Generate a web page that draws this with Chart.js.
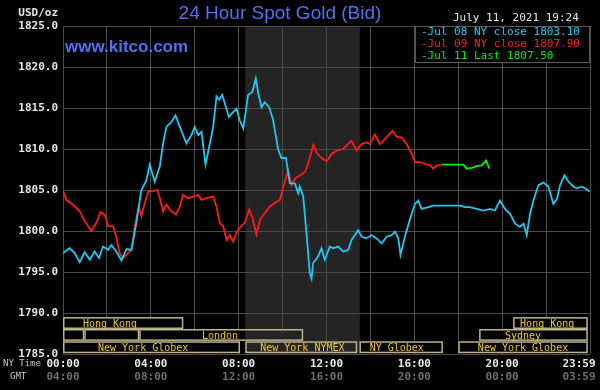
<!DOCTYPE html>
<html>
<head>
<meta charset="utf-8">
<script src="https://cdn.jsdelivr.net/npm/chart.js@4"></script>
<style>
  body { margin: 0; background: #000; }
  canvas { display: block; }
</style>
</head>
<body>
<canvas id="gold" width="600" height="390"></canvas>
<script>
// Jul 08 (cyan) - hours NY time / price
const jul08Hours = [0.00, 0.30, 0.53, 0.76, 0.99, 1.22, 1.44, 1.64, 1.82, 2.05, 2.20, 2.43, 2.66, 2.89, 3.12, 3.34, 3.57, 3.80, 3.95, 4.18, 4.41, 4.56, 4.71, 4.94, 5.12, 5.32, 5.62, 5.85, 6.00, 6.16, 6.31, 6.49, 6.69, 6.84, 6.99, 7.11, 7.25, 7.40, 7.55, 7.75, 7.90, 8.05, 8.21, 8.43, 8.63, 8.78, 8.89, 9.04, 9.19, 9.39, 9.57, 9.80, 9.95, 10.15, 10.33, 10.56, 10.71, 10.78, 10.94, 11.09, 11.24, 11.32, 11.39, 11.62, 11.77, 11.92, 12.15, 12.30, 12.53, 12.76, 12.99, 13.14, 13.29, 13.44, 13.60, 13.82, 14.05, 14.28, 14.51, 14.74, 14.96, 15.12, 15.27, 15.37, 15.57, 15.72, 15.88, 16.03, 16.18, 16.33, 16.64, 16.86, 17.17, 17.62, 18.08, 18.31, 18.53, 18.84, 19.14, 19.45, 19.67, 19.90, 20.13, 20.36, 20.59, 20.81, 20.97, 21.12, 21.27, 21.42, 21.65, 21.88, 22.11, 22.33, 22.49, 22.64, 22.84, 23.02, 23.25, 23.40, 23.63, 23.78, 23.98];
const jul08Prices = [1797.3, 1797.9, 1797.3, 1796.2, 1797.4, 1796.5, 1797.5, 1796.7, 1798.1, 1797.7, 1798.3, 1797.5, 1796.4, 1797.8, 1797.7, 1801.0, 1805.0, 1806.2, 1808.1, 1806.0, 1807.9, 1810.7, 1812.7, 1813.3, 1814.1, 1812.7, 1810.7, 1811.7, 1812.7, 1811.7, 1812.1, 1808.1, 1810.7, 1812.7, 1816.4, 1816.0, 1816.6, 1815.3, 1813.9, 1814.5, 1814.9, 1813.5, 1812.5, 1816.6, 1817.0, 1818.6, 1816.8, 1815.1, 1815.7, 1815.1, 1813.5, 1809.9, 1808.9, 1808.9, 1805.8, 1805.8, 1804.6, 1805.4, 1804.2, 1799.7, 1794.8, 1794.2, 1796.1, 1796.9, 1797.9, 1796.5, 1798.1, 1797.9, 1798.1, 1797.5, 1797.7, 1798.9, 1799.5, 1800.1, 1799.3, 1799.1, 1799.5, 1799.1, 1798.5, 1799.3, 1799.5, 1799.9, 1799.1, 1797.1, 1799.3, 1800.7, 1802.1, 1803.3, 1803.7, 1802.7, 1802.9, 1803.1, 1803.1, 1803.1, 1803.1, 1802.9, 1802.9, 1802.7, 1802.5, 1802.7, 1802.5, 1803.7, 1802.7, 1802.1, 1800.9, 1800.5, 1800.9, 1799.5, 1802.1, 1803.7, 1805.6, 1805.9, 1805.4, 1803.3, 1803.9, 1805.6, 1806.8, 1806.0, 1805.4, 1805.2, 1805.4, 1805.2, 1804.8];

// Jul 09 (red)
const jul09Hours = [0.00, 0.15, 0.46, 0.76, 0.99, 1.29, 1.52, 1.70, 1.90, 2.05, 2.28, 2.43, 2.58, 2.74, 2.96, 3.12, 3.27, 3.45, 3.57, 3.72, 3.88, 4.10, 4.29, 4.41, 4.56, 4.71, 4.94, 5.14, 5.32, 5.47, 5.70, 5.93, 6.16, 6.31, 6.53, 6.84, 6.99, 7.14, 7.29, 7.45, 7.60, 7.75, 7.90, 8.05, 8.28, 8.48, 8.63, 8.81, 8.97, 9.19, 9.42, 9.65, 9.88, 10.03, 10.26, 10.41, 10.56, 10.79, 11.02, 11.17, 11.40, 11.55, 11.78, 12.01, 12.23, 12.46, 12.76, 13.14, 13.37, 13.60, 13.82, 13.98, 14.20, 14.43, 14.66, 14.86, 15.01, 15.19, 15.42, 15.65, 15.88, 16.03, 16.26, 16.48, 16.71, 16.86, 17.02, 17.24];
const jul09Prices = [1804.9, 1803.8, 1803.2, 1802.4, 1801.2, 1800.0, 1801.0, 1802.3, 1802.0, 1800.6, 1800.6, 1799.2, 1797.3, 1796.7, 1797.3, 1797.7, 1800.6, 1803.0, 1801.8, 1803.4, 1804.8, 1804.9, 1805.0, 1804.0, 1802.4, 1803.2, 1802.4, 1802.0, 1803.0, 1804.4, 1804.0, 1804.2, 1804.4, 1803.8, 1804.0, 1804.2, 1803.0, 1801.0, 1800.6, 1798.9, 1799.5, 1798.7, 1799.8, 1800.4, 1801.0, 1802.6, 1801.6, 1799.6, 1801.4, 1802.2, 1803.0, 1803.4, 1803.8, 1805.4, 1807.4, 1805.6, 1806.4, 1806.8, 1807.2, 1808.3, 1810.5, 1809.5, 1808.9, 1808.5, 1809.4, 1809.8, 1810.0, 1811.0, 1809.8, 1810.6, 1810.8, 1810.6, 1811.8, 1810.6, 1811.2, 1811.8, 1812.2, 1811.5, 1811.4, 1810.6, 1809.4, 1808.4, 1808.4, 1808.2, 1808.0, 1807.6, 1808.0, 1808.0];

// Jul 11 (green)
const jul11Hours = [17.24, 17.55, 17.93, 18.23, 18.38, 18.61, 18.84, 19.07, 19.26, 19.42];
const jul11Prices = [1808.1, 1808.1, 1808.1, 1808.1, 1807.6, 1807.7, 1807.9, 1808.0, 1808.6, 1807.6];

const legendTexts = ["-Jul 08 NY close 1803.10", "-Jul 09 NY close 1807.90", "-Jul 11 Last 1807.50"];

const tickHours = [0, 4, 8, 12, 16, 20, 24];
const nyTimeLabels = ["00:00", "04:00", "08:00", "12:00", "16:00", "20:00", "23:59"];
const gmtTimeLabels = ["04:00", "08:00", "12:00", "16:00", "20:00", "00:00", "03:59"];

// trading sessions drawn under the curves
const sessionNames = ["Hong Kong", "", "", "London", "New York Globex", "New York NYMEX", "NY Globex", "New York Globex", "Hong Kong", "Sydney"];
const sessionStart = [0, 0, 0.97, 3.47, 0, 8.3, 13.5, 18.0, 20.5, 18.95];
const sessionEnd = [5.48, 0.97, 3.47, 10.94, 8.06, 13.4, 17.3, 23.9, 23.9, 23.9];
const sessionRow = [0, 1, 1, 1, 2, 2, 2, 2, 0, 1];
const sessionLabelAt = [2.14, 0, 0, 7.15, 3.65, 10.9, 15.2, 20.95, 22.05, 20.95];

const nymexFrom = 8.3;
const nymexTo = 13.52;

const CYAN = "#1ec8f0";
const RED = "#ff1a1a";
const GREEN = "#00f000";
const BLUE = "#5071f0";
const GRID = "#4a4a4a";
const MONO = "'DejaVu Sans Mono', monospace";

const toPoints = (xs, ys) => xs.map((x, i) => ({ x, y: ys[i] }));

const decorations = {
  id: "kitcoDecorations",
  beforeDraw(chart) {
    const { ctx, chartArea, scales } = chart;
    ctx.save();
    ctx.fillStyle = "#000";
    ctx.fillRect(0, 0, chart.width, chart.height);
    // NYMEX hours shading
    const x0 = scales.x.getPixelForValue(nymexFrom);
    const x1 = scales.x.getPixelForValue(nymexTo);
    ctx.fillStyle = "#242424";
    ctx.fillRect(x0, chartArea.top, x1 - x0, chartArea.bottom - chartArea.top);
    ctx.restore();
  },
  beforeDatasetsDraw(chart) {
    const { ctx, scales } = chart;
    const x = scales.x;
    const y = scales.y;
    const rowTops = [1789.5, 1788.05, 1786.55];
    const rowH = 1.45;
    const shadeL = x.getPixelForValue(nymexFrom);
    const shadeR = x.getPixelForValue(nymexTo);
    ctx.save();
    sessionNames.forEach((name, i) => {
      const left = x.getPixelForValue(sessionStart[i]);
      const right = x.getPixelForValue(sessionEnd[i]);
      const top = y.getPixelForValue(rowTops[sessionRow[i]]);
      const bottom = y.getPixelForValue(rowTops[sessionRow[i]] - rowH);
      ctx.fillStyle = "#000";
      ctx.fillRect(left, top, right - left, bottom - top);
      const sl = Math.max(left, shadeL);
      const sr = Math.min(right, shadeR);
      if (sr > sl) {
        ctx.fillStyle = "#242424";
        ctx.fillRect(sl, top, sr - sl, bottom - top);
      }
      ctx.strokeStyle = "#bdb48a";
      ctx.lineWidth = 1.5;
      ctx.strokeRect(left + 0.75, top + 0.75, right - left - 1.5, bottom - top - 1.5);
      if (name) {
        ctx.fillStyle = "#f0c81a";
        ctx.font = "10px " + MONO;
        ctx.textAlign = "center";
        ctx.textBaseline = "middle";
        ctx.fillText(name, x.getPixelForValue(sessionLabelAt[i]), (top + bottom) / 2 + 1);
      }
    });
    ctx.restore();
  },
  afterDraw(chart) {
    const { ctx, scales } = chart;
    ctx.save();
    // titles
    ctx.textBaseline = "middle";
    ctx.fillStyle = BLUE;
    ctx.textAlign = "center";
    ctx.font = "19px 'Liberation Sans', Arial, sans-serif";
    ctx.fillText("24 Hour Spot Gold (Bid)", 280, 14);
    ctx.textAlign = "left";
    ctx.font = "bold 17px 'Liberation Sans', Arial, sans-serif";
    ctx.fillText("www.kitco.com", 65, 47);

    ctx.fillStyle = "#e6e6e6";
    ctx.font = "bold 11px " + MONO;
    ctx.textAlign = "right";
    ctx.fillText("USD/oz", 58, 13);
    ctx.textAlign = "left";
    ctx.font = "11px " + MONO;
    ctx.fillText("July 11, 2021 19:24", 453, 18);

    // legend box
    ctx.fillStyle = "#000";
    ctx.fillRect(415, 26, 175, 37);
    ctx.strokeStyle = "#5a5a5a";
    ctx.lineWidth = 1;
    ctx.strokeRect(415.5, 26.5, 174, 36);
    ctx.font = "11px " + MONO;
    [CYAN, RED, GREEN].forEach((c, i) => {
      ctx.fillStyle = c;
      ctx.fillText(legendTexts[i], 421, 32.5 + i * 11.7);
    });

    // time axis
    ctx.font = "9px " + MONO;
    ctx.fillStyle = "#c8c8c8";
    ctx.fillText("NY Time", 3, 364);
    ctx.fillText("GMT", 10, 377);
    ctx.textAlign = "center";
    tickHours.forEach((h, i) => {
      const px = Math.min(scales.x.getPixelForValue(h), 579);
      ctx.font = "bold 11px " + MONO;
      ctx.fillStyle = "#ececec";
      ctx.fillText(nyTimeLabels[i], px, 364);
      ctx.fillStyle = "#6e6e6e";
      ctx.fillText(gmtTimeLabels[i], px, 377);
    });
    ctx.restore();
  },
};

const ctx = document.getElementById("gold").getContext("2d");

new Chart(ctx, {
  type: "line",
  data: {
    datasets: [
      { label: "Jul 08", data: toPoints(jul08Hours, jul08Prices), borderColor: CYAN },
      { label: "Jul 09", data: toPoints(jul09Hours, jul09Prices), borderColor: RED },
      { label: "Jul 11", data: toPoints(jul11Hours, jul11Prices), borderColor: GREEN },
    ],
  },
  options: {
    responsive: false,
    animation: false,
    layout: { padding: { top: 26, right: 10, left: 0, bottom: 0 } },
    elements: {
      point: { radius: 0 },
      line: { borderWidth: 1.8, tension: 0 },
    },
    plugins: {
      legend: { display: false },
      tooltip: { enabled: false },
    },
    scales: {
      x: {
        type: "linear",
        min: 0,
        max: 24,
        afterFit: (scale) => { scale.height = 36; },
        grid: { color: GRID, drawTicks: false },
        border: { display: false },
        ticks: { display: false, stepSize: 2 },
      },
      y: {
        min: 1785,
        max: 1825,
        afterFit: (scale) => { scale.width = 63; },
        grid: { color: GRID, drawTicks: false },
        border: { display: false },
        ticks: {
          stepSize: 5,
          padding: 5,
          color: "#e6e6e6",
          font: { family: "DejaVu Sans Mono", size: 11, weight: "bold" },
          callback: (v) => v.toFixed(1),
        },
      },
    },
  },
  plugins: [decorations],
});
</script>
</body>
</html>
